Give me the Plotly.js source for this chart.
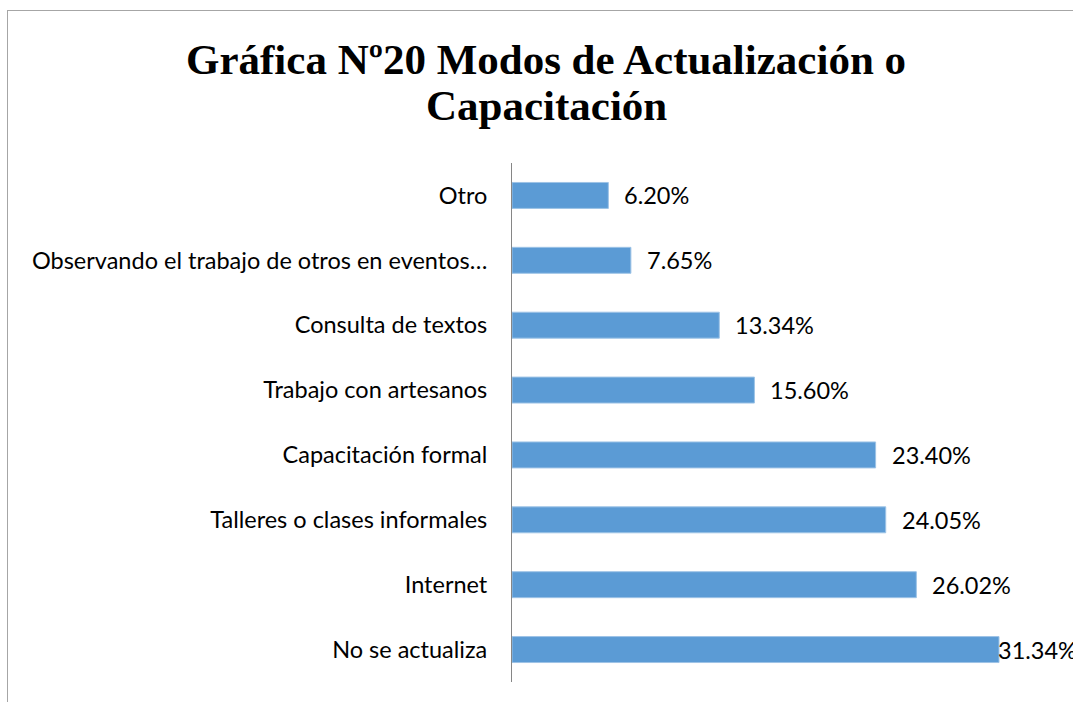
<!DOCTYPE html>
<html>
<head>
<meta charset="utf-8">
<script src="https://cdn.plot.ly/plotly-3.0.1.min.js"></script>
<style>
html,body{margin:0;padding:0;background:#fff;overflow:hidden;}
#frame{position:absolute;left:7px;top:10px;width:1200px;height:800px;border:1px solid #a6a6a6;box-sizing:border-box;}
#chart{position:absolute;left:0;top:0;width:1073px;height:702px;}
</style>
</head>
<body>
<div id="frame"></div>
<div id="chart"></div>
<script>
const categories = [
  "No se actualiza",
  "Internet",
  "Talleres o clases informales",
  "Capacitación formal",
  "Trabajo con artesanos",
  "Consulta de textos",
  "Observando el trabajo de otros en eventos…",
  "Otro"
];
const values = [31.34, 26.02, 24.05, 23.40, 15.60, 13.34, 7.65, 6.20];
const titleLine1 = "Gráfica Nº20 Modos de Actualización o";
const titleLine2 = "Capacitación";

const labelFont = {family: "Lato, 'Open Sans', sans-serif", size: 23.5, color: "#000"};
const titleFont = {family: "'Liberation Serif', 'Times New Roman', serif", size: 43, color: "#000"};

const W = 1073, H = 702;
const mL = 512, mR = 20, mT = 163, mB = 20;
const plotW = W - mL - mR;
const pxPerUnit = 487 / 31.34;

const annotations = values.map((v, i) => ({
  x: v, y: categories[i], xref: "x", yref: "y",
  text: v.toFixed(2) + "%", showarrow: false,
  xanchor: "left", yanchor: "middle",
  xshift: i === 0 ? -3 : 14,
  font: labelFont
}));

function titleAnn(text, px, py) {
  return {
    x: (px - mL) / plotW, y: (H - mB - py) / (H - mT - mB),
    xref: "paper", yref: "paper",
    text: "<b>" + text + "</b>", showarrow: false,
    xanchor: "center", yanchor: "middle",
    font: titleFont
  };
}
annotations.push(titleAnn(titleLine1, 546, 60));
annotations.push(titleAnn(titleLine2, 546, 105));

const trace = {
  type: "bar", orientation: "h",
  x: values, y: categories,
  marker: {color: "#5B9BD5", line: {color: "#9DC3E6", width: 1}},
  width: 0.4,
  hoverinfo: "skip"
};

const layout = {
  width: W, height: H,
  paper_bgcolor: "rgba(0,0,0,0)",
  plot_bgcolor: "rgba(0,0,0,0)",
  margin: {l: mL, r: mR, t: mT, b: mB, pad: 0},
  showlegend: false,
  xaxis: {
    range: [0, plotW / pxPerUnit],
    visible: false, fixedrange: true
  },
  yaxis: {
    type: "category",
    categoryorder: "array", categoryarray: categories,
    range: [-0.5, 7.5],
    showline: true, linecolor: "#868686", linewidth: 1,
    showgrid: false, zeroline: false,
    ticks: "", ticklabelstandoff: 19,
    tickfont: labelFont, fixedrange: true
  },
  annotations: annotations
};

Plotly.newPlot("chart", [trace], layout, {displayModeBar: false, staticPlot: true});
</script>
</body>
</html>
